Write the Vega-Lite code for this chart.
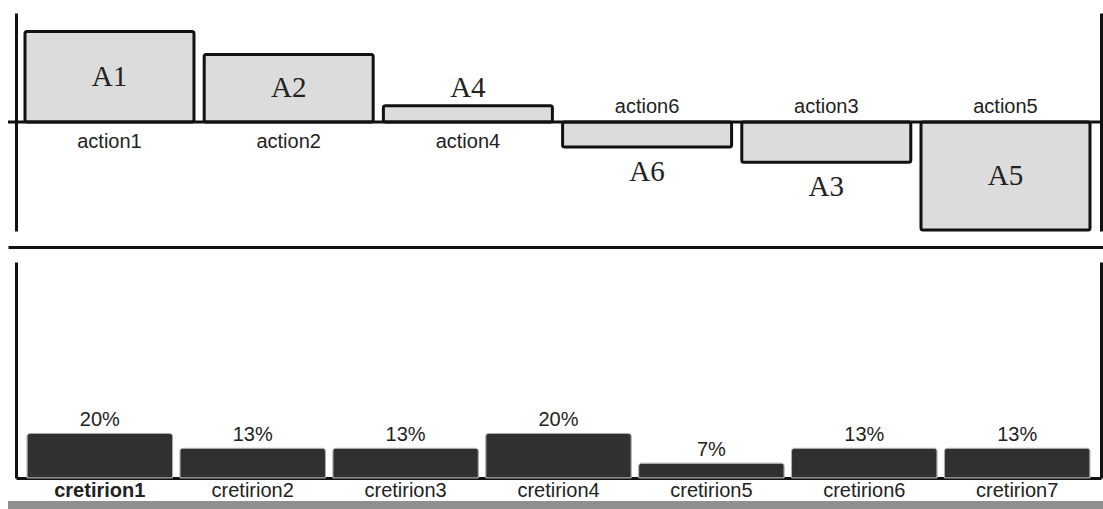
{
  "$schema": "https://vega.github.io/schema/vega-lite/v6.json",
  "padding": {"left": 6, "top": 13, "right": 0, "bottom": 0},
  "background": "white",
  "config": {
    "view": {"stroke": null},
    "axis": {"grid": false, "ticks": false, "labels": false, "domainColor": "#111", "domainWidth": 3},
    "text": {"font": "Liberation Sans", "color": "#222"}
  },
  "datasets": {
    "flows": [
      {"action": "action1", "label": "A1", "flow": 0.83},
      {"action": "action2", "label": "A2", "flow": 0.62},
      {"action": "action4", "label": "A4", "flow": 0.15},
      {"action": "action6", "label": "A6", "flow": -0.23},
      {"action": "action3", "label": "A3", "flow": -0.37},
      {"action": "action5", "label": "A5", "flow": -0.99}
    ],
    "weights": [
      {"criterion": "cretirion1", "weight": 0.2},
      {"criterion": "cretirion2", "weight": 0.1333},
      {"criterion": "cretirion3", "weight": 0.1333},
      {"criterion": "cretirion4", "weight": 0.2},
      {"criterion": "cretirion5", "weight": 0.0667},
      {"criterion": "cretirion6", "weight": 0.1333},
      {"criterion": "cretirion7", "weight": 0.1333}
    ]
  },
  "spacing": 15,
  "vconcat": [
    {
      "width": 1096,
      "height": 218,
      "data": {"name": "flows"},
      "layer": [
        {
          "mark": {"type": "bar", "fill": "#dcdcdc", "stroke": "#111", "strokeWidth": 3, "cornerRadius": 2},
          "encoding": {
            "x": {"field": "action", "type": "nominal", "sort": null, "title": null,
              "scale": {"paddingInner": 0.057, "paddingOuter": 0.0865, "align": 0.548},
              "axis": {"orient": "bottom", "offset": 16, "labels": false, "ticks": false, "domainWidth": 3}},
            "y": {"field": "flow", "type": "quantitative", "title": null,
              "scale": {"domain": [-1, 1], "nice": false, "zero": false},
              "axis": {"orient": "left", "offset": -8, "labels": false, "ticks": false, "domainWidth": 3}},
            "y2": {"datum": 0}
          }
        },
        {
          "data": {"values": [{}]},
          "mark": {"type": "rule", "stroke": "#111", "strokeWidth": 3},
          "encoding": {
            "y": {"datum": 0, "type": "quantitative", "title": null,
              "scale": {"domain": [-1, 1], "nice": false, "zero": false},
              "axis": {"orient": "right", "offset": -3, "labels": false, "ticks": false, "domainWidth": 3}}
          }
        },
        {
          "transform": [{"filter": "datum.flow > 0"}],
          "mark": {"type": "text", "baseline": "middle", "dy": 20, "fontSize": 20},
          "encoding": {
            "x": {"field": "action", "type": "nominal", "sort": null},
            "y": {"datum": 0, "type": "quantitative", "scale": {"domain": [-1, 1], "nice": false, "zero": false}, "axis": null},
            "text": {"field": "action"}
          }
        },
        {
          "transform": [{"filter": "datum.flow < 0"}],
          "mark": {"type": "text", "baseline": "middle", "dy": -15, "fontSize": 20},
          "encoding": {
            "x": {"field": "action", "type": "nominal", "sort": null},
            "y": {"datum": 0, "type": "quantitative", "scale": {"domain": [-1, 1], "nice": false, "zero": false}, "axis": null},
            "text": {"field": "action"}
          }
        },
        {
          "transform": [{"filter": "abs(datum.flow) >= 0.5"}],
          "mark": {"type": "text", "baseline": "middle", "font": "Liberation Serif", "fontSize": 29},
          "encoding": {
            "x": {"field": "action", "type": "nominal", "sort": null},
            "y": {"field": "flow", "type": "quantitative", "scale": {"domain": [-2, 2], "nice": false, "zero": false}, "axis": null},
            "text": {"field": "label"}
          }
        },
        {
          "transform": [{"filter": "datum.flow > 0 && datum.flow < 0.5"}],
          "mark": {"type": "text", "baseline": "alphabetic", "dy": -9, "font": "Liberation Serif", "fontSize": 29},
          "encoding": {
            "x": {"field": "action", "type": "nominal", "sort": null},
            "y": {"field": "flow", "type": "quantitative", "scale": {"domain": [-1, 1], "nice": false, "zero": false}, "axis": null},
            "text": {"field": "label"}
          }
        },
        {
          "transform": [{"filter": "datum.flow < 0 && datum.flow > -0.5"}],
          "mark": {"type": "text", "baseline": "alphabetic", "dy": 34, "font": "Liberation Serif", "fontSize": 29},
          "encoding": {
            "x": {"field": "action", "type": "nominal", "sort": null},
            "y": {"field": "flow", "type": "quantitative", "scale": {"domain": [-1, 1], "nice": false, "zero": false}, "axis": null},
            "text": {"field": "label"}
          }
        }
      ],
      "resolve": {"scale": {"y": "independent"}}
    },
    {
      "spacing": 1,
      "vconcat": [
        {
          "width": 1096,
          "height": 216,
          "data": {"name": "weights"},
          "layer": [
            {
              "mark": {"type": "bar", "fill": "#303030", "cornerRadiusTopLeft": 3, "cornerRadiusTopRight": 3, "stroke": "#aaa", "strokeWidth": 1},
              "encoding": {
                "x": {"field": "criterion", "type": "nominal", "sort": null, "title": null,
                  "scale": {"range": [8, 1093], "paddingInner": 0.048, "paddingOuter": 0.072},
                  "axis": {"orient": "bottom", "labels": true, "ticks": false, "labelAngle": 0, "labelFont": "Liberation Sans", "labelFontSize": 20, "labelColor": "#222", "labelPadding": 2,
                    "labelFontWeight": {"condition": {"test": "datum.value === 'cretirion1'", "value": "bold"}, "value": "normal"},
                    "domainWidth": 3}},
                "y": {"field": "weight", "type": "quantitative", "title": null,
                  "scale": {"domain": [0, 0.97], "nice": false},
                  "axis": {"orient": "left", "offset": -8, "labels": false, "ticks": false, "domainWidth": 3}}
              }
            },
            {
              "mark": {"type": "text", "baseline": "middle", "dy": -13, "fontSize": 20},
              "encoding": {
                "x": {"field": "criterion", "type": "nominal", "sort": null},
                "y": {"field": "weight", "type": "quantitative", "title": null,
                  "axis": {"orient": "right", "offset": -3, "labels": false, "ticks": false, "domainWidth": 3}},
                "text": {"field": "weight", "format": ".0%"}
              }
            }
          ],
          "resolve": {"axis": {"y": "independent"}}
        },
        {
          "width": 1096,
          "height": 9,
          "data": {"values": []},
          "mark": "rect",
          "view": {"fill": "#8f8f8f", "stroke": null}
        }
      ]
    }
  ]
}
